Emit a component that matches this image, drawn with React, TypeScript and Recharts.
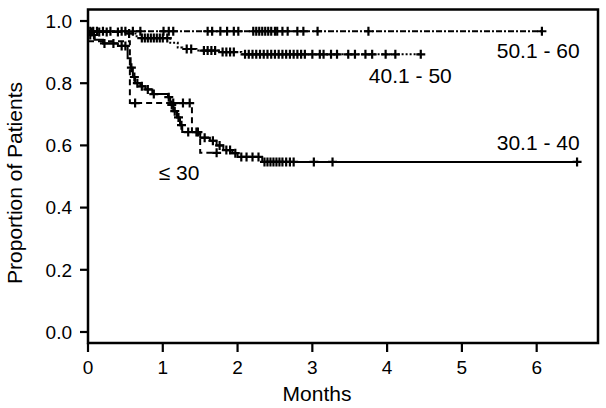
import React from 'react';
import {
  ComposedChart,
  Line,
  Scatter,
  XAxis,
  YAxis,
  ReferenceArea,
  ReferenceDot,
} from 'recharts';

// ---- axes ----
const xTicks = [0, 1, 2, 3, 4, 5, 6];
const yTicks = [0, 0.2, 0.4, 0.6, 0.8, 1.0];
const xDomain: [number, number] = [0, 6.82];
const yDomain: [number, number] = [-0.0354, 1.037];

// ---- group labels ----
const groupNames = ['\u2264 30', '30.1 - 40', '40.1 - 50', '50.1 - 60'];

// ---- 50.1 - 60 (dash-dot) ----
const g5060Times = [0];
const g5060Surv = [0.967];
const g5060End = 6.07;
const g5060Censor = [
  0.03, 0.07, 0.12, 0.2, 0.3, 0.45, 0.5, 0.6, 0.7, 1.01, 1.08, 1.14, 1.6, 1.66,
  1.77, 1.86, 1.95, 2.01, 2.21, 2.25, 2.29, 2.33, 2.37, 2.41, 2.45, 2.5, 2.53,
  2.6, 2.67, 2.8, 2.88, 3.07, 3.75, 6.07,
];

// ---- 40.1 - 50 (dotted) ----
const g4050Times = [0, 0.5, 0.65, 1.1, 1.2, 1.26, 1.45, 1.75, 2.05];
const g4050Surv = [0.965, 0.96, 0.945, 0.93, 0.915, 0.91, 0.905, 0.9, 0.893];
const g4050End = 4.45;
const g4050Censor = [
  0.05, 0.15, 0.25, 0.4, 0.55, 0.72, 0.76, 0.8, 0.84, 0.88, 0.92, 0.96, 1.0,
  1.06, 1.32, 1.38, 1.55, 1.6, 1.65, 1.7, 1.8, 1.85, 1.9, 1.95, 2.1, 2.15, 2.2,
  2.25, 2.3, 2.35, 2.4, 2.45, 2.5, 2.55, 2.6, 2.65, 2.7, 2.75, 2.8, 2.85, 2.9,
  3.0, 3.1, 3.15, 3.25, 3.33, 3.48, 3.57, 3.71, 3.8, 3.98, 4.11, 4.45,
];

// ---- 30.1 - 40 (solid) ----
const g3040Times = [
  0, 0.09, 0.2, 0.4, 0.53, 0.57, 0.6, 0.63, 0.7, 0.77, 0.86, 1.07, 1.1, 1.14,
  1.19, 1.23, 1.26, 1.5, 1.63, 1.72, 1.81, 1.93, 2.0, 2.33,
];
const g3040Surv = [
  0.955, 0.94, 0.928, 0.92, 0.88, 0.85, 0.82, 0.8, 0.79, 0.78, 0.765, 0.755,
  0.73, 0.71, 0.69, 0.665, 0.643, 0.625, 0.615, 0.6, 0.585, 0.575, 0.563, 0.547,
];
const g3040End = 6.54;
const g3040Censor = [
  0.03, 0.08, 0.22, 0.34, 0.45, 0.5, 0.58, 0.62, 0.66, 0.72, 0.8, 0.88, 1.08,
  1.12, 1.16, 1.21, 1.25, 1.34, 1.45, 1.56, 1.67, 1.76, 1.85, 1.9, 1.97, 2.05,
  2.12, 2.2, 2.28, 2.36, 2.4, 2.44, 2.48, 2.52, 2.56, 2.6, 2.65, 2.7, 2.75,
  3.02, 3.27, 6.54,
];

// ---- <= 30 (dashed) ----
const g30Times = [0, 0.56, 1.39, 1.5];
const g30Surv = [0.935, 0.736, 0.643, 0.576];
const g30End = 1.72;
const g30Censor = [0.63, 1.14, 1.27, 1.36, 1.47, 1.72];

type Pt = { t: number; s: number };

function steps(times: number[], surv: number[], end: number): Pt[] {
  const pts = times.map((t, i) => ({ t, s: surv[i] }));
  pts.push({ t: end, s: surv[surv.length - 1] });
  return pts;
}

function censorPts(times: number[], surv: number[], cens: number[]): Pt[] {
  return cens.map((c) => {
    let v = surv[0];
    for (let i = 0; i < times.length; i++) if (times[i] <= c) v = surv[i];
    return { t: c, s: v };
  });
}

const Cross = (props: any) => {
  const { cx, cy } = props;
  if (cx == null || cy == null) return null;
  return (
    <path
      d={`M${cx - 4.5},${cy}H${cx + 4.5}M${cx},${cy - 4.5}V${cy + 4.5}`}
      stroke="#000"
      strokeWidth={2.2}
      fill="none"
    />
  );
};

const FONT = '"Liberation Sans", Arial, Helvetica, sans-serif';

const series = [
  { key: 'g30', line: steps(g30Times, g30Surv, g30End), cens: censorPts(g30Times, g30Surv, g30Censor), dash: '6 4' },
  { key: 'g3040', line: steps(g3040Times, g3040Surv, g3040End), cens: censorPts(g3040Times, g3040Surv, g3040Censor), dash: undefined },
  { key: 'g4050', line: steps(g4050Times, g4050Surv, g4050End), cens: censorPts(g4050Times, g4050Surv, g4050Censor), dash: '2 2' },
  { key: 'g5060', line: steps(g5060Times, g5060Surv, g5060End), cens: censorPts(g5060Times, g5060Surv, g5060Censor), dash: '6 2 2 2' },
];

export default function App() {
  return (
    <div style={{ position: 'absolute', left: 0, top: 0, width: 606, height: 408, background: '#fff' }}>
      <ComposedChart
        width={606}
        height={408}
        margin={{ top: 9.5, right: 8, bottom: 0, left: 0 }}
      >
        <XAxis
          type="number"
          dataKey="t"
          domain={xDomain}
          ticks={xTicks}
          allowDataOverflow
          axisLine={false}
          tickLine={{ stroke: '#000', strokeWidth: 2.2 }}
          tickSize={9}
          tickMargin={9}
          height={65}
          tick={{ fill: '#000', fontSize: 19, fontFamily: FONT }}
          label={{
            content: () => (
              <text x={317} y={401} textAnchor="middle" fill="#000" fontSize={21} fontFamily={FONT}>
                Months
              </text>
            ),
          }}
        />
        <YAxis
          type="number"
          dataKey="s"
          domain={yDomain}
          ticks={yTicks}
          allowDataOverflow
          axisLine={false}
          tickLine={{ stroke: '#000', strokeWidth: 2.2 }}
          tickSize={8}
          tickMargin={8}
          width={88}
          tickFormatter={(v: number) => v.toFixed(1)}
          tick={{ fill: '#000', fontSize: 19, fontFamily: FONT }}
          label={{
            content: () => (
              <text
                x={22}
                y={183}
                transform="rotate(-90 22 183)"
                textAnchor="middle"
                fill="#000"
                fontSize={21}
                fontFamily={FONT}
              >
                Proportion of Patients
              </text>
            ),
          }}
        />
        <ReferenceArea
          x1={xDomain[0]}
          x2={xDomain[1]}
          y1={yDomain[0]}
          y2={yDomain[1]}
          fill="none"
          fillOpacity={0}
          stroke="#000"
          strokeWidth={2.5}
          ifOverflow="visible"
        />
        {series.map((sr) => (
          <Line
            key={sr.key}
            data={sr.line}
            dataKey="s"
            type="stepAfter"
            stroke="#000"
            strokeWidth={2}
            strokeDasharray={sr.dash}
            dot={false}
            activeDot={false}
            isAnimationActive={false}
          />
        ))}
        {series.map((sr) => (
          <Scatter
            key={sr.key + 'c'}
            data={sr.cens}
            dataKey="s"
            shape={Cross}
            isAnimationActive={false}
          />
        ))}
        <ReferenceDot x={6.02} y={0.905} r={1} fill="none" stroke="none"
          label={{ value: groupNames[3], position: 'center', fill: '#000', fontSize: 21, fontFamily: FONT }} />
        <ReferenceDot x={4.31} y={0.824} r={1} fill="none" stroke="none"
          label={{ value: groupNames[2], position: 'center', fill: '#000', fontSize: 21, fontFamily: FONT }} />
        <ReferenceDot x={6.02} y={0.609} r={1} fill="none" stroke="none"
          label={{ value: groupNames[1], position: 'center', fill: '#000', fontSize: 21, fontFamily: FONT }} />
        <ReferenceDot x={1.217} y={0.513} r={1} fill="none" stroke="none"
          label={{ value: groupNames[0], position: 'center', fill: '#000', fontSize: 21, fontFamily: FONT }} />
      </ComposedChart>
    </div>
  );
}
